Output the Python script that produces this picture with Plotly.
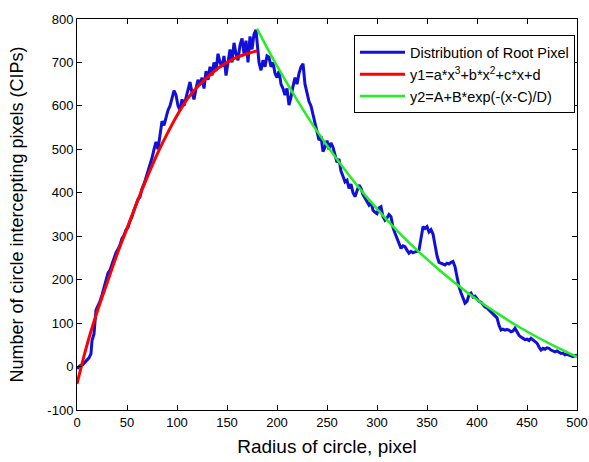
import plotly.graph_objects as go

# Blue: measured distribution of root pixels
blue_x = [0, 3, 6, 9, 12, 14, 15, 17, 19, 21, 23, 25, 27, 29, 31, 33, 35, 37, 39, 41, 43, 45, 47, 49,
          51, 53, 55, 57, 59, 61, 63, 65, 67, 69, 71, 73, 75, 77, 79, 81, 83, 85, 87, 89, 91, 93, 95, 97, 99,
          101, 103, 105, 107, 109, 111, 113, 115, 117, 119, 121, 123,
          125, 127, 129, 131, 133, 135, 137, 139, 141, 143, 145, 147, 149, 151, 153, 155, 157, 159, 161, 163,
          165, 167, 169, 171, 173, 175, 177, 179,
          180, 182, 184, 186, 188, 190, 192, 194, 196, 198, 200, 202, 204, 206, 208, 210, 212, 214, 216, 218,
          220, 222, 224, 226, 228, 230, 232, 234, 236, 238, 240, 242, 244, 246, 248, 250, 252, 254, 256, 258,
          260, 262, 264, 266, 268, 270, 272, 274, 276, 278, 280, 282, 284, 286, 288, 290, 292, 294, 296, 298,
          300, 302, 304, 306, 308, 310, 312, 314, 316, 318, 320, 322, 324, 326, 328, 330, 332, 334, 336, 338,
          340, 342, 344, 346, 348, 350, 352, 354, 356, 358, 360, 362, 364, 366, 368, 370, 372, 374, 376, 378,
          380, 382, 384, 386, 388, 390, 392, 394, 396, 398, 400, 402, 404, 406, 408, 410, 412, 414, 416, 418,
          420, 422, 424, 426, 428, 430, 432, 434, 436, 438, 440, 442, 444, 446, 448, 450, 452, 454, 456, 458,
          460, 462, 464, 466, 468, 470, 472, 474, 476, 478, 480, 482, 484, 486, 488, 490, 492, 494, 496, 498, 500]
blue_y = [-5, 2, 5, 12, 20, 30, 60, 75, 130, 140, 150, 165, 180, 195, 215, 222, 235, 250, 262, 270, 280, 295, 302, 315,
          320, 335, 345, 360, 372, 385, 390, 410, 420, 435, 445, 465, 480, 500, 517, 500, 540, 565, 555, 575, 590, 600, 615, 635, 625,
          600, 590, 615, 600, 620, 640, 655, 630, 615, 640, 660, 650,
          665, 640, 680, 660, 690, 670, 700, 680, 720, 700, 690, 715, 670, 700, 730, 700, 745, 720, 705, 740,
          755, 720, 750, 700, 760, 730, 765, 775,
          745, 700, 682, 705, 690, 715, 712, 690, 700, 675, 665, 680, 650, 640, 625, 640, 602, 620, 645, 665,
          650, 675, 690, 697, 650, 630, 610, 600, 580, 560, 545, 521, 530, 495, 505, 520, 500, 515, 505, 490,
          470, 478, 450, 438, 425, 429, 410, 420, 400, 391, 405, 418, 410, 396, 388, 380, 372, 378, 360, 355,
          352, 365, 368, 345, 337, 342, 350, 345, 320, 307, 295, 285, 272, 278, 276, 268, 261, 265, 262, 264,
          265, 268, 300, 322, 318, 322, 310, 315, 305, 276, 255, 240, 238, 236, 234, 238, 236, 240, 242, 230,
          205, 184, 170, 158, 146, 150, 165, 169, 160, 162, 155, 150, 148, 142, 137, 135, 130, 125, 120, 117,
          112, 95, 84, 86, 84, 85, 84, 80, 82, 88, 78, 72, 68, 65, 62, 63, 60, 65, 61, 57,
          54, 45, 38, 42, 40, 43, 42, 38, 36, 34, 36, 32, 30, 31, 27, 28, 26, 25, 23, 25, 26]

# Red: cubic fit y1
red_x = [0, 10, 20, 30, 40, 50, 60, 70, 80, 90, 100, 110, 120, 130, 140, 150, 160, 170, 180]
red_y = [-40, 50, 125, 192, 258, 318, 378, 435, 488, 535, 578, 615, 643, 665, 685, 700, 712, 720, 727]

# Green: exponential fit y2
green_x = [180, 200, 220, 240, 260, 280, 300, 320, 340, 360, 380, 400, 420, 440, 460, 480, 500]
green_y = [778, 692, 614, 542, 477, 417, 363, 313, 268, 227, 189, 154, 123, 94, 68, 44, 22]

x_ticks = [0, 50, 100, 150, 200, 250, 300, 350, 400, 450, 500]
y_ticks = [-100, 0, 100, 200, 300, 400, 500, 600, 700, 800]

FONT = "Liberation Sans, Arial"

fig = go.Figure()
fig.add_trace(go.Scatter(x=blue_x, y=blue_y, mode="lines", name="Distribution of Root Pixel",
                         line=dict(color="#1010d8", width=3)))
fig.add_trace(go.Scatter(x=red_x, y=red_y, mode="lines", name="y1=a*x<sup>3</sup>+b*x<sup>2</sup>+c*x+d",
                         line=dict(color="#ff0000", width=3, shape="spline")))
fig.add_trace(go.Scatter(x=green_x, y=green_y, mode="lines", name="y2=A+B*exp(-(x-C)/D)",
                         line=dict(color="#22ee22", width=2.5, shape="spline")))

axis_common = dict(showline=True, linecolor="black", linewidth=1, mirror="ticks",
                   ticks="inside", ticklen=5, tickcolor="black", showgrid=False, zeroline=False,
                   automargin=False,
                   tickfont=dict(family=FONT, size=13, color="black"))

fig.update_xaxes(range=[0, 500], tickvals=x_ticks, ticktext=[str(v) for v in x_ticks],
                 title=dict(text="Radius of circle, pixel", standoff=11,
                            font=dict(family=FONT, size=19, color="black")),
                 **axis_common)
fig.update_yaxes(range=[-100, 800], tickvals=y_ticks, ticktext=[str(v) for v in y_ticks],
                 title=dict(text="Number of circle intercepting pixels (CIPs)", standoff=19,
                            font=dict(family=FONT, size=18, color="black")),
                 **axis_common)

fig.update_layout(
    width=589, height=462,
    margin=dict(l=77, r=12, t=19, b=52, autoexpand=False),
    paper_bgcolor="white", plot_bgcolor="white",
    font=dict(family=FONT, color="black"),
    legend=dict(x=0.996, y=0.958, xanchor="right", yanchor="top",
                bgcolor="white", bordercolor="black", borderwidth=1,
                font=dict(family=FONT, size=14.5, color="black"),
                tracegroupgap=0, itemwidth=45),
    showlegend=True,
)

# remove the default page margin so the figure fills the window exactly
fig.write_html("out.html", config={"displayModeBar": False},
               post_script="document.body.style.margin='0px';document.body.style.overflow='hidden';")
